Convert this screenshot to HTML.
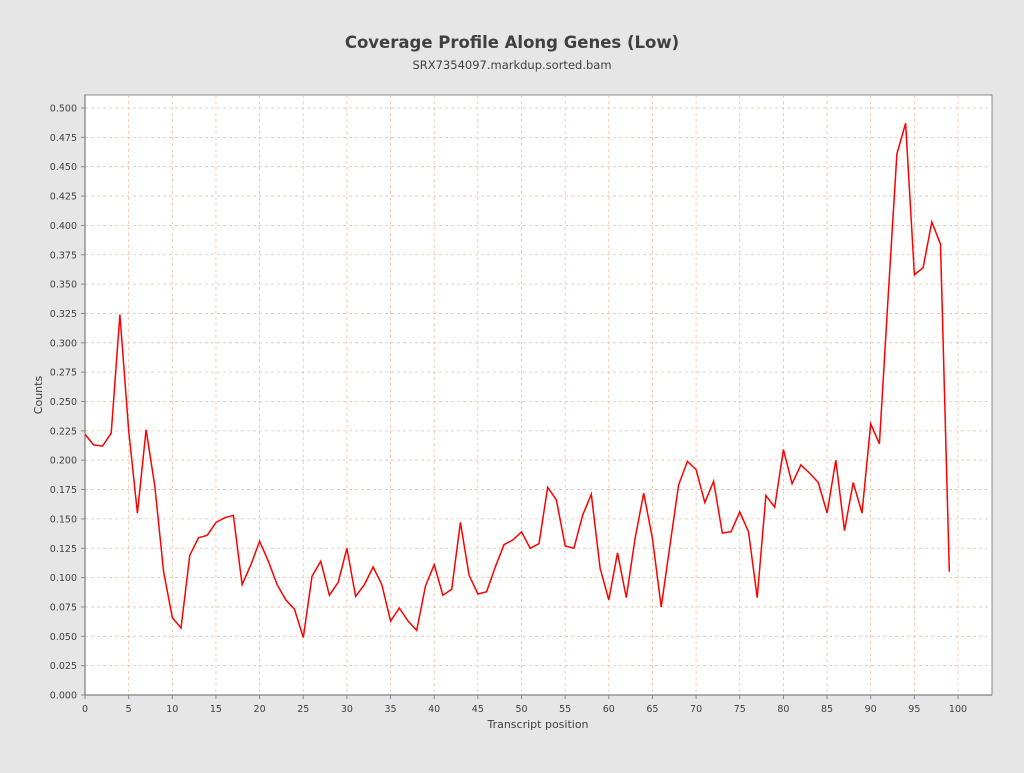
<!DOCTYPE html>
<html><head><meta charset="utf-8"><style>
body{margin:0;background:#e6e6e6;width:1024px;height:768px;overflow:hidden;font-family:"Liberation Sans","DejaVu Sans",sans-serif}
</style></head><body>
<svg id="s" width="1024" height="768" xmlns="http://www.w3.org/2000/svg" font-family="DejaVu Sans, Liberation Sans, sans-serif">
<rect width="1024" height="768" fill="#e6e6e6"/>
<text x="512" y="48" text-anchor="middle" font-size="16.5" font-weight="bold" fill="#404040">Coverage Profile Along Genes (Low)</text>
<text x="512" y="69" text-anchor="middle" font-size="11.5" fill="#404040">SRX7354097.markdup.sorted.bam</text>
<rect x="85" y="95" width="907" height="600" fill="#fff" stroke="#888" stroke-width="1"/>
<g id="grid"></g>
<line x1="85" y1="95" x2="85" y2="695" stroke="#666"/>
<line x1="85" y1="695" x2="992" y2="695" stroke="#666"/>
<g id="ticks" font-size="9.5" fill="#404040"></g>
<text x="538" y="728" text-anchor="middle" font-size="11" fill="#404040">Transcript position</text>
<text x="42" y="395" text-anchor="middle" font-size="11" fill="#404040" transform="rotate(-90 42 395)">Counts</text>
<polyline id="line" fill="none" stroke="#ff0000" stroke-width="1.5"/>
</svg>
<script>
var d=[0.222,0.213,0.212,0.223,0.324,0.225,0.155,0.226,0.178,0.105,0.066,0.057,0.119,0.134,0.136,0.147,0.151,0.153,0.094,0.111,0.131,0.114,0.094,0.081,0.073,0.049,0.101,0.114,0.085,0.096,0.125,0.084,0.094,0.109,0.094,0.063,0.074,0.063,0.055,0.093,0.111,0.085,0.090,0.147,0.102,0.086,0.088,0.109,0.128,0.132,0.139,0.125,0.129,0.177,0.166,0.127,0.125,0.153,0.171,0.108,0.081,0.121,0.083,0.133,0.172,0.133,0.075,0.127,0.179,0.199,0.192,0.164,0.182,0.138,0.139,0.156,0.139,0.083,0.170,0.160,0.209,0.180,0.196,0.189,0.181,0.155,0.200,0.140,0.181,0.155,0.231,0.214,0.340,0.461,0.487,0.358,0.364,0.403,0.384,0.105];
function X(v){return 85+v*8.73}function Y(v){return 695-v*1174}
var g='',t='';
for(var i=0;i<=100;i+=5){var x=X(i);g+='<line x1="'+x+'" y1="95" x2="'+x+'" y2="695" stroke="#f0c0a0" stroke-dasharray="3,3" stroke-width="0.8"/>';
t+='<line x1="'+x+'" y1="695" x2="'+x+'" y2="699" stroke="#888"/><text x="'+x+'" y="712" text-anchor="middle">'+i+'</text>';}
for(var j=0;j<=20;j++){var v=j*0.025,y=Y(v);g+='<line x1="85" y1="'+y+'" x2="992" y2="'+y+'" stroke="#f0c0a0" stroke-dasharray="3,3" stroke-width="0.8"/>';
t+='<line x1="81" y1="'+y+'" x2="85" y2="'+y+'" stroke="#888"/><text x="77" y="'+(y+3.5)+'" text-anchor="end">'+v.toFixed(3)+'</text>';}
document.getElementById('grid').innerHTML=g;document.getElementById('ticks').innerHTML=t;
document.getElementById('line').setAttribute('points',d.map(function(v,i){return X(i).toFixed(1)+','+Y(v).toFixed(1)}).join(' '));
</script>
</body></html>
